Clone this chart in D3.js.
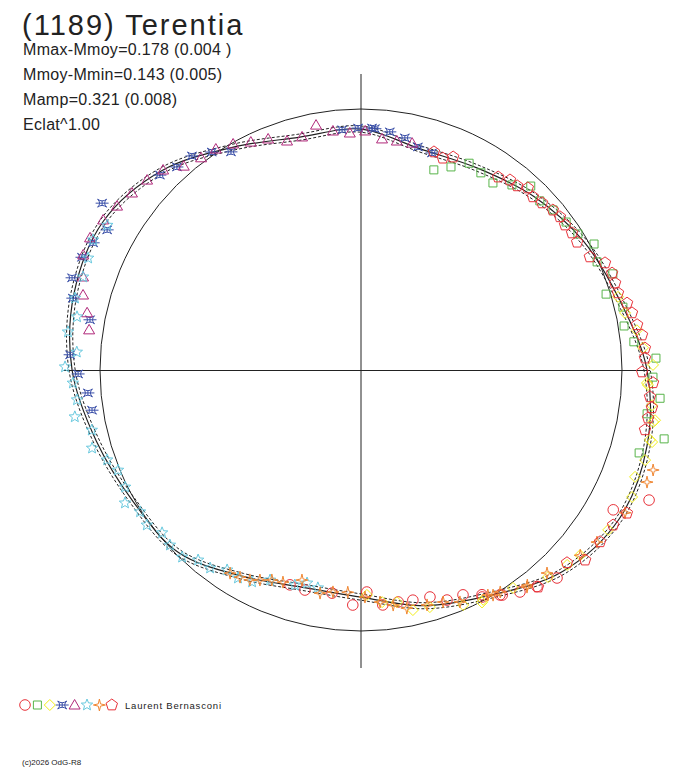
<!DOCTYPE html>
<html>
<head>
<meta charset="utf-8">
<script src="https://cdn.jsdelivr.net/npm/d3@7"></script>
<style>
body { margin: 0; background: #fff; }
text { font-family: Arial, "Liberation Sans", sans-serif; }
</style>
</head>
<body>
<div id="chart"></div>
<script>
// phase in degrees (clockwise from top), flux relative to the mean circle
const fitPhase = [0, 15, 30, 45, 60, 75, 90, 105, 120, 135, 150, 165, 180, 195, 210, 225, 240, 255, 270, 285, 300, 315, 330, 345];
const fitFlux = [0.923, 0.877, 0.893, 0.939, 0.985, 1.027, 1.096, 1.134, 1.142, 1.092, 0.996, 0.935, 0.870, 0.862, 0.912, 0.989, 1.008, 1.050, 1.107, 1.138, 1.140, 1.080, 0.985, 0.923];
const fitErr = 0.012;

const circlePts = [[114.3,1.211],[119,1.105],[136.7,1.095],[140.9,1.069],[144.4,1.046],[147.9,1.018],[148.3,1.013],[151.7,0.978],[151.9,0.986],[155.6,0.946],[159.5,0.941],[163.1,0.909],[167.3,0.904],[170.9,0.900],[174.7,0.904],[178.5,0.851],[182,0.901],[187.4,0.862],[194.3,0.870],[198.3,0.867]];
const squarePts = [[20,0.816],[23.9,0.851],[27.6,0.894],[31.3,0.884],[35.2,0.877],[39.2,0.915],[42.7,0.959],[46.6,0.943],[50.2,0.958],[54.2,0.969],[57.9,0.981],[61.6,1.015],[65.4,0.995],[69.1,1.033],[72.8,0.983],[76.5,1.032],[80.5,1.022],[84.1,1.051],[87.7,1.131],[91.4,1.119],[95.4,1.151],[98.7,1.109],[102.8,1.191],[106.6,1.112]];
const diamondPts = [[74.1,1.024],[77.8,1.035],[81.8,1.068],[85.5,1.084],[89,1.119],[92.6,1.097],[93,1.101],[96.9,1.123],[99.7,1.143],[100.1,1.137],[103.6,1.139],[103.9,1.149],[107.6,1.142],[111.3,1.127],[115.1,1.147],[122.9,1.128],[130.2,1.099],[133.4,1.087],[137.9,1.069],[145.1,1.018],[152,0.997],[152.5,1.004],[156.5,0.982],[163.8,0.946],[167.8,0.941],[171.2,0.900],[174.8,0.893],[178.5,0.862]];
const astroidPts = [[261.5,1.042],[265.2,1.050],[269.2,1.084],[273,1.116],[280.5,1.056],[284,1.138],[287.7,1.162],[292,1.153],[295.4,1.136],[298.9,1.111],[302.8,1.180],[314.1,1.073],[317.8,1.050],[321.7,1.045],[325.6,1.012],[329.2,0.973],[355.5,0.923],[359.3,0.927],[2.6,0.928],[3.3,0.926],[6.9,0.919],[10.7,0.905],[14.3,0.882],[18.1,0.875]];
const trianglePts = [[278.4,1.053],[281.8,1.072],[285.1,1.103],[288.5,1.123],[292.5,1.152],[296,1.155],[300.2,1.143],[303.9,1.126],[307.7,1.109],[311.6,1.096],[315.3,1.078],[319,1.035],[323,1.018],[326.7,1.013],[330.5,0.995],[334.2,0.970],[338.1,0.954],[342.1,0.922],[345.8,0.921],[349.6,0.954],[353.3,0.922],[357.3,0.909],[1,0.916],[5.2,0.889],[8.9,0.888],[12.7,0.891]];
const starPts = [[191.2,0.851],[194.2,0.842],[197.1,0.862],[203.4,0.877],[207.2,0.913],[210.6,0.926],[213.8,0.922],[217.3,0.954],[220.6,0.959],[223.7,0.992],[227.5,0.993],[230.7,0.985],[234.1,1.013],[237.3,1.006],[240.6,1.038],[243.6,1.009],[247.6,1.007],[250.5,1.032],[253.8,1.073],[257.4,1.057],[260.7,1.111],[264,1.094],[267.4,1.105],[270.6,1.134],[273.6,1.091],[277.4,1.132],[280.6,1.107],[284.1,1.130],[288.5,1.123],[292.3,1.130],[295.9,1.141],[299.7,1.119]];
const sparklePts = [[108.9,1.183],[111.4,1.177],[118.4,1.150],[126.1,1.119],[130.2,1.100],[137.5,1.055],[142.3,1.042],[142.6,1.047],[147.9,1.004],[149.6,1.000],[150.6,0.990],[156.9,0.966],[160.5,0.943],[164.3,0.935],[169.1,0.929],[172.2,0.909],[175.3,0.892],[179,0.870],[183.4,0.853],[187.2,0.857],[190.4,0.869],[195.7,0.836],[200.2,0.866],[203,0.874],[205.7,0.893],[207.9,0.910],[210.3,0.919],[212.8,0.926]];
const pentagonPts = [[18.5,0.881],[21.1,0.870],[23.4,0.889],[35.4,0.907],[38.1,0.925],[40.3,0.925],[42.5,0.946],[44.8,0.935],[47.3,0.944],[50.2,0.957],[52.4,0.962],[54.6,0.959],[57,0.964],[59.4,0.962],[63.7,0.978],[66.3,1.021],[68.9,1.031],[71.1,1.029],[73.3,1.028],[75.9,1.051],[78.1,1.061],[80.7,1.072],[82.9,1.085],[85.6,1.091],[87.6,1.089],[90.4,1.077],[92.5,1.120],[95.3,1.112],[97.4,1.124],[99.5,1.115],[101.9,1.112],[118.3,1.157],[121.6,1.134],[125.7,1.128],[130.3,1.126],[133.1,1.081],[140.8,1.073]];

const seriesShapes = ['circle', 'square', 'diamond', 'astroid', 'triangle', 'star', 'sparkle', 'pentagon'];
const seriesPoints = [circlePts, squarePts, diamondPts, astroidPts, trianglePts, starPts, sparklePts, pentagonPts];

const titleText = '(1189) Terentia';
const infoLines = ['Mmax-Mmoy=0.178 (0.004 )', 'Mmoy-Mmin=0.143 (0.005)', 'Mamp=0.321 (0.008)', 'Eclat^1.00'];
const observerName = 'Laurent Bernasconi';
const footerText = '(c)2026 OdG-R8';

class PolarLightcurve {

    constructor(_config) {
        this.config = {
            parentElement: _config.parentElement,
            containerWidth: _config.containerWidth || 688,
            containerHeight: _config.containerHeight || 768,
            cx: 361,
            cy: 370,
            radius: 261
        };
        this.colors = ['#e8323a', '#58b44a', '#f2ee1a', '#3a4fa8', '#b0287a', '#66c8de', '#f08632', '#e8323a'];
        this.initVis();
    }

    initVis() {
        let vis = this;
        vis.svg = d3.select(vis.config.parentElement)
            .append('svg')
            .attr('width', vis.config.containerWidth)
            .attr('height', vis.config.containerHeight);

        vis.chart = vis.svg.append('g')
            .attr('transform', `translate(${vis.config.cx},${vis.config.cy})`);

        vis.angleScale = d3.scaleLinear().domain([0, 360]).range([0, 2 * Math.PI]);
        vis.rScale = d3.scaleLinear().domain([0, 1]).range([0, vis.config.radius]);

        vis.renderVis();
    }

    // marker outlines, centred on 0,0
    shapePath(name) {
        const poly = (n, ro, ri, rot) => {
            let pts = [];
            for (let i = 0; i < n * (ri ? 2 : 1); i++) {
                let a = rot + i * Math.PI / (ri ? n : n / 2);
                let r = ri && i % 2 ? ri : ro;
                pts.push([r * Math.sin(a), -r * Math.cos(a)]);
            }
            return 'M' + pts.map(p => p[0].toFixed(2) + ',' + p[1].toFixed(2)).join('L') + 'Z';
        };
        switch (name) {
            case 'circle': return 'M5.3,0A5.3,5.3 0 1,1 -5.3,0A5.3,5.3 0 1,1 5.3,0Z';
            case 'square': return 'M-4,-4H4V4H-4Z';
            case 'diamond': return 'M0,-5.5L5.5,0L0,5.5L-5.5,0Z';
            case 'triangle': return 'M0,-5.5L5.5,4L-5.5,4Z';
            case 'astroid': return 'M-4.5,-4Q0,-0.5 4.5,-4Q0.5,0 4.5,4Q0,0.5 -4.5,4Q-0.5,0 -4.5,-4ZM-6.5,0H6.5M0,-2.5V2.5';
            case 'star': return poly(5, 6, 2.6, 0);
            case 'sparkle': return poly(4, 6, 1.6, 0);
            case 'pentagon': return poly(5, 6, 0, 0);
        }
    }

    renderVis() {
        let vis = this;

        // axes
        vis.chart.append('line')
            .attr('x1', 0).attr('x2', 0)
            .attr('y1', -296).attr('y2', 298)
            .attr('stroke', '#222').attr('stroke-width', 1);
        vis.chart.append('line')
            .attr('x1', -298).attr('x2', 289)
            .attr('y1', 0.5).attr('y2', 0.5)
            .attr('stroke', '#222').attr('stroke-width', 1);

        // mean circle
        vis.chart.append('circle')
            .attr('r', vis.rScale(1))
            .attr('fill', 'none')
            .attr('stroke', '#222')
            .attr('stroke-width', 1);

        const fitData = fitPhase.map((p, i) => [p, fitFlux[i]]);
        const radial = d3.lineRadial()
            .angle(d => vis.angleScale(d[0]))
            .curve(d3.curveCatmullRomClosed.alpha(0.5));

        [-fitErr, fitErr].forEach(e => {
            vis.chart.append('path')
                .datum(fitData)
                .attr('d', radial.radius(d => vis.rScale(d[1] + e)))
                .attr('fill', 'none')
                .attr('stroke', '#222')
                .attr('stroke-width', 1)
                .attr('stroke-dasharray', '3,2');
        });
        vis.chart.append('path')
            .datum(fitData)
            .attr('d', radial.radius(d => vis.rScale(d[1])))
            .attr('fill', 'none')
            .attr('stroke', '#222')
            .attr('stroke-width', 1.2);

        // observation markers
        seriesPoints.forEach((pts, i) => {
            vis.chart.selectAll('.s' + i)
                .data(pts)
                .join('path')
                .attr('class', 's' + i)
                .attr('transform', d => {
                    let p = d3.pointRadial(vis.angleScale(d[0]), vis.rScale(d[1]));
                    return `translate(${p[0]},${p[1]})`;
                })
                .attr('d', vis.shapePath(seriesShapes[i]))
                .attr('fill', 'none')
                .attr('stroke', vis.colors[i])
                .attr('stroke-width', 1);
        });

        // texts
        vis.svg.append('text')
            .attr('x', 22).attr('y', 35)
            .attr('font-size', '29px')
            .attr('letter-spacing', '2px')
            .attr('fill', '#222')
            .text(titleText);

        vis.svg.selectAll('.info')
            .data(infoLines)
            .join('text')
            .attr('class', 'info')
            .attr('x', 23)
            .attr('y', (d, i) => 55 + i * 25)
            .attr('font-size', '16px')
            .attr('letter-spacing', '0.3px')
            .attr('fill', '#222')
            .text(d => d);

        // legend
        vis.svg.selectAll('.legend')
            .data(seriesShapes)
            .join('path')
            .attr('class', 'legend')
            .attr('transform', (d, i) => `translate(${25 + i * 12.4},705)`)
            .attr('d', d => vis.shapePath(d))
            .attr('fill', 'none')
            .attr('stroke', (d, i) => vis.colors[i]);

        vis.svg.append('text')
            .attr('x', 125).attr('y', 709)
            .attr('font-size', '9.5px')
            .attr('letter-spacing', '0.8px')
            .attr('fill', '#222')
            .text(observerName);

        vis.svg.append('text')
            .attr('x', 22).attr('y', 765)
            .attr('font-size', '8px')
            .attr('fill', '#222')
            .text(footerText);
    }
}

new PolarLightcurve({ parentElement: '#chart' });
</script>
</body>
</html>
